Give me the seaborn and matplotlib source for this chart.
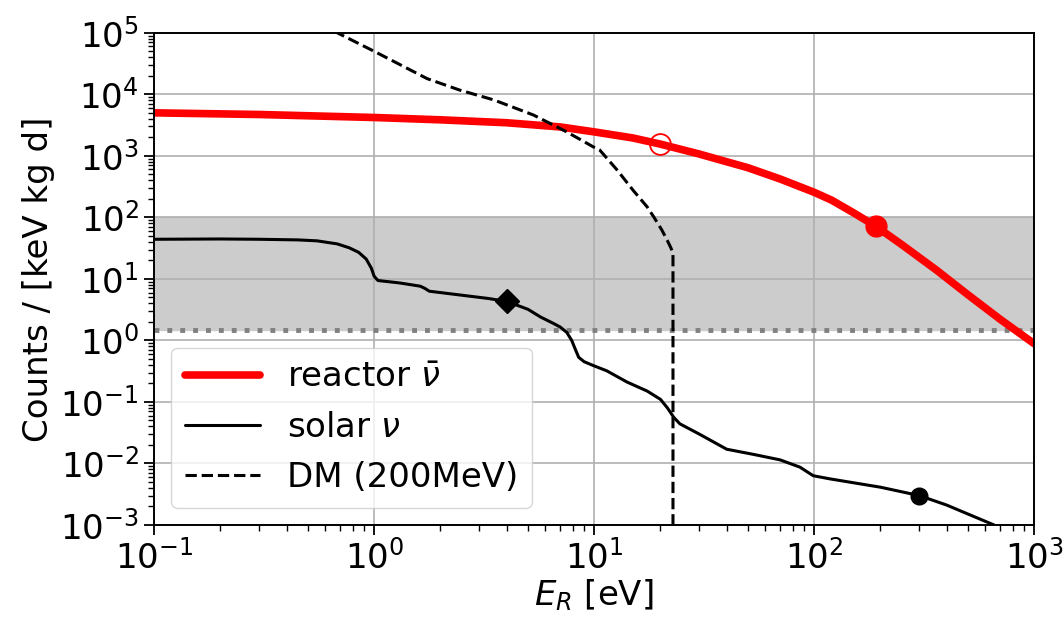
import matplotlib
matplotlib.use("Agg")
import matplotlib.pyplot as plt
from matplotlib.ticker import LogLocator, NullFormatter
import seaborn as sns

# 反应堆反中微子谱 (eV, counts / keV kg d)
reactor_E = [0.1, 0.3, 1.0, 2.0, 4.0, 7.0, 10, 15, 20, 30, 50, 70, 100, 120, 150, 190,
             250, 360, 500, 700, 1000]
reactor_counts = [5000, 4700, 4200, 3850, 3450, 2950, 2450, 1950, 1550, 1070, 640, 420,
                  255, 190, 120, 72, 36, 13.8, 5.5, 2.2, 0.88]

# 太阳中微子谱
solar_E = [0.1, 0.2, 0.3, 0.45, 0.55, 0.68, 0.77, 0.85, 0.92, 0.97, 1.0, 1.04, 1.3, 1.62,
           1.7, 1.78, 3.3, 4.0, 5.0, 5.7, 6.5, 7.0, 7.5, 7.9, 8.2, 8.5, 9.0, 9.9, 11.4, 14.1,
           17.4, 20, 21.5, 23, 24.5, 30, 40, 53, 70, 86, 99, 118, 200, 300, 400, 500, 655, 800]
solar_counts = [44, 44.5, 44, 43, 41.5, 37, 32, 27, 21, 15, 11, 9.4, 8.6, 7.6, 7.0, 6.3,
                4.8, 4.3, 3.2, 2.4, 1.9, 1.65, 1.35, 1.0, 0.72, 0.53, 0.45, 0.39, 0.32, 0.21,
                0.15, 0.11, 0.08, 0.056, 0.044, 0.030, 0.017, 0.014, 0.0114, 0.0087, 0.0063,
                0.0056, 0.0041, 0.0030, 0.0021, 0.0015, 0.0010, 0.0006]

# 暗物质 (200 MeV)
dm_E = [0.5, 0.68, 1.0, 1.74, 2.45, 3.5, 5.3, 7.5, 9.9, 10.6, 12.7, 15, 17.4, 18.7, 20.3,
        21.5, 22.3, 22.8, 22.8]
dm_counts = [2.2e5, 1e5, 5e4, 1.8e4, 1.17e4, 8100, 4600, 2450, 1400, 1240, 590, 277, 148,
             100, 62, 42, 32, 26, 1e-5]

# 标记点
reactor_open = (20, 1550)
reactor_filled = (190, 72)
solar_diamond = (4.0, 4.3)
solar_dot = (300, 0.003)

band_low, band_high = 1.5, 100

sns.set_style("ticks")
plt.rcParams['font.family'] = ['DejaVu Sans']
plt.rcParams['mathtext.fontset'] = 'dejavusans'
plt.rcParams.update({'text.color': 'black', 'axes.labelcolor': 'black',
                     'xtick.color': 'black', 'ytick.color': 'black'})

fs = 24.5
fig, ax = plt.subplots(figsize=(10.63, 6.19), dpi=100)
fig.subplots_adjust(left=0.145, right=0.973, top=0.947, bottom=0.152)
ax.set(xscale='log', yscale='log')

ax.axhspan(band_low, band_high, color='#cccccc', zorder=0.5)
ax.axhline(band_low, color='gray', linestyle=':', linewidth=3.5, zorder=0.6)

sns.lineplot(x=reactor_E, y=reactor_counts, ax=ax, color='red', linewidth=5.5,
             label=r'reactor $\bar{\nu}$', estimator=None, sort=False)
sns.lineplot(x=solar_E, y=solar_counts, ax=ax, color='black', linewidth=2.2,
             label=r'solar $\nu$', estimator=None, sort=False)
sns.lineplot(x=dm_E, y=dm_counts, ax=ax, color='black', linewidth=2.2, linestyle='--',
             label='DM (200MeV)', estimator=None, sort=False)

ax.plot(*reactor_open, 'o', markersize=15, markerfacecolor='none', markeredgecolor='red',
        markeredgewidth=1.3)
ax.plot(*reactor_filled, 'o', markersize=15, color='red')
ax.plot(*solar_diamond, 'D', markersize=12, color='black')
ax.plot(*solar_dot, 'o', markersize=12, color='black')

ax.set_xlim(0.1, 1000)
ax.set_ylim(1e-3, 1e5)
for axis in (ax.xaxis, ax.yaxis):
    axis.set_major_locator(LogLocator(base=10, numticks=20))
    axis.set_minor_locator(LogLocator(base=10, subs=range(2, 10), numticks=20))
    axis.set_minor_formatter(NullFormatter())
ax.grid(True, which='major', color='#b0b0b0', linewidth=1.2)
for s in ax.spines.values():
    s.set_color('black')
    s.set_linewidth(1.4)
ax.tick_params(which='major', length=7, width=1.3, labelsize=fs, pad=4)
ax.tick_params(which='minor', length=4, width=1.0)
ax.set_xlabel(r'$E_R$ [eV]', fontsize=fs, labelpad=1)
ax.set_ylabel('Counts / [keV kg d]', fontsize=fs)

ax.legend(loc='lower left', fontsize=fs, handlelength=2.2)

plt.savefig('out.png', dpi=100, facecolor='white')
